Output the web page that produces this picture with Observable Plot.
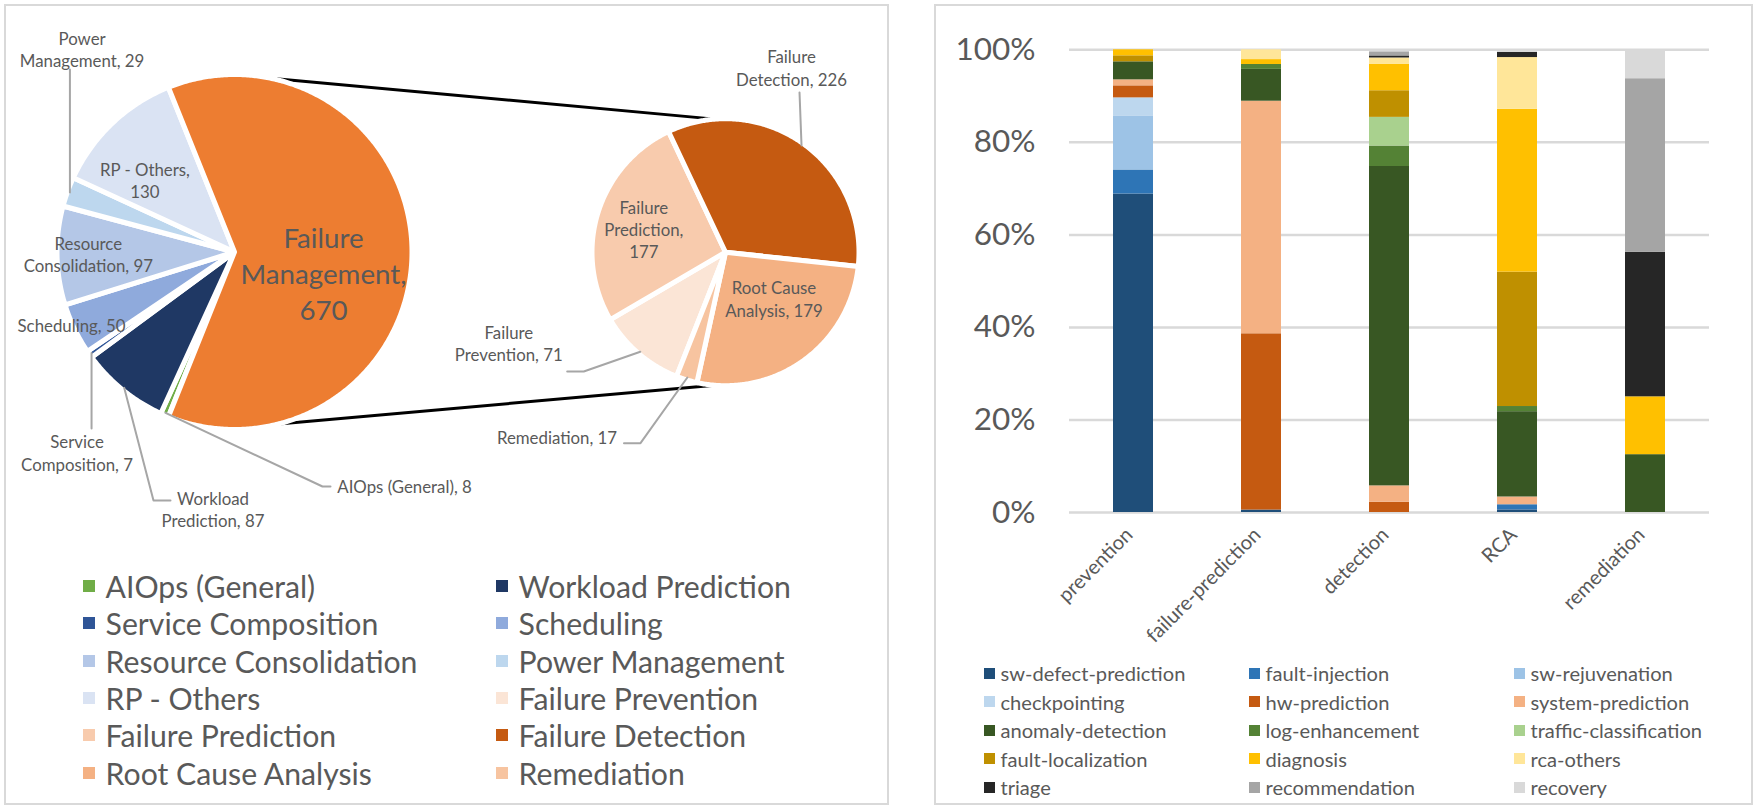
<!DOCTYPE html>
<html><head><meta charset="utf-8">
<script src="https://cdn.jsdelivr.net/npm/d3@7"></script>
<script src="https://cdn.jsdelivr.net/npm/@observablehq/plot@0.6"></script>
<style>
html,body{margin:0;padding:0;background:#fff;}
#page{position:relative;width:1757px;height:810px;overflow:hidden;font-family:Lato,sans-serif;color:#595959;}
.panel{position:absolute;box-sizing:border-box;border:2.5px solid #D9D9D9;}
.holder{position:absolute;}
.item{position:absolute;display:flex;align-items:center;white-space:nowrap;height:30px;}
.item span.sw{display:inline-block;flex:none;}
</style></head><body>
<div id="page">
  <div class="panel" style="left:4px;top:4px;width:885px;height:801px"></div>
  <div class="panel" style="left:934px;top:4px;width:819px;height:801px"></div>
  <div id="left" class="holder" style="left:0;top:0"></div>
  <div id="right" class="holder" style="left:935px;top:5px"></div>
  <div id="legL"></div>
  <div id="legR"></div>
</div>
<script>
// ---------------- DATA ----------------
const pieNames = ["AIOps (General)","Workload Prediction","Service Composition","Scheduling","Resource Consolidation","Power Management","RP - Others"];
const pieValues = [8, 87, 7, 50, 97, 29, 130];
const otherName = "Failure Management";
const subNames = ["Failure Prevention","Failure Prediction","Failure Detection","Root Cause Analysis","Remediation"];
const subValues = [71, 177, 226, 179, 17];

const barCategories = ["prevention","failure-prediction","detection","RCA","remediation"];
const barSeries = ["sw-defect-prediction","fault-injection","sw-rejuvenation","checkpointing","hw-prediction","system-prediction","anomaly-detection","log-enhancement","traffic-classification","fault-localization","diagnosis","rca-others","triage","recommendation","recovery"];
const preventionCounts        = [53, 4, 9, 3, 2, 1, 3, 0, 0, 1, 1, 0, 0, 0, 0];
const failurePredictionCounts = [1, 0, 0, 0, 72, 95, 13, 2, 0, 0, 2, 4, 0, 0, 0];
const detectionCounts         = [0, 0, 0, 0, 5, 8, 156, 10, 14, 13, 13, 3, 1, 2, 1];
const rcaCounts               = [1, 2, 0, 0, 0, 3, 33, 2, 0, 52, 63, 20, 2, 0, 1];
const remediationCounts       = [0, 0, 0, 0, 0, 0, 2, 0, 0, 0, 2, 0, 5, 6, 1];
const yTicks = [0, 0.2, 0.4, 0.6, 0.8, 1];

// ---------------- STYLES ----------------
const pieColors = ["#70AD47","#1F3864","#2F5597","#8FAADC","#B4C7E7","#BDD7EE","#DAE3F3"];
const otherColor = "#ED7D31";
const subColors = ["#FBE5D6","#F8CBAD","#C55A11","#F4B183","#F7C4A0"];
const barColors = ["#1F4E79","#2E75B6","#9DC3E6","#BDD7EE","#C55A11","#F4B183","#385723","#548235","#A9D18E","#BF9000","#FFC000","#FFE699","#262626","#A5A5A5","#D9D9D9"];
const TXT = "#595959";

function fit(text, target, family = "Lato") {
  const ctx = document.createElement("canvas").getContext("2d");
  ctx.font = `100px ${family}`;
  return 100 * target / ctx.measureText(text).width;
}
const ySize = fit("100%", 80);
const legRSize = fit("sw-defect-prediction", 185);
const legLSize = fit("Resource Consolidation", 312);
const smallSize = fit("Scheduling, 50", 108);
const bigSize = fit("Management,", 166);

// ---------------- RIGHT: stacked 100% bars ----------------
const barValues = [preventionCounts, failurePredictionCounts, detectionCounts, rcaCounts, remediationCounts];
const barTable = barCategories.flatMap((c, i) => barSeries.map((s, j) => ({category: c, series: s, value: barValues[i][j]})));

const right = Plot.plot({
  width: 817, height: 660,
  marginLeft: 134, marginRight: 43, marginTop: 44.3, marginBottom: 153,
  style: {fontFamily: "Lato", color: TXT, background: "transparent", overflow: "visible", maxWidth: "none"},
  x: {domain: barCategories, paddingInner: 0.6875, paddingOuter: 0.34375, axis: null},
  y: {domain: [0, 1], axis: null},
  color: {domain: barSeries, range: barColors},
  marks: [
    Plot.ruleY(yTicks, {stroke: "#D9D9D9", strokeWidth: 2.5}),
    Plot.barY(barTable, {x: "category", y: "value", fill: "series", offset: "normalize"}),
    Plot.axisY({ticks: yTicks, tickFormat: d3.format(".0%"), tickSize: 0, tickPadding: 34, fontSize: ySize, label: null, fill: TXT}),
    Plot.text(barCategories, {x: d => d, y: () => 0, text: d => d, rotate: -45, textAnchor: "end", lineAnchor: "middle", dx: -4, dy: 19, fontSize: legRSize, fill: TXT})
  ]
});
document.getElementById("right").appendChild(right);

// right legend
(function(){
  const colX = [984, 1249, 1514], rowY = [673, 701.5, 730, 758.5, 787];
  const box = document.getElementById("legR");
  barSeries.forEach((s, i) => {
    const d = document.createElement("div");
    d.className = "item";
    d.style.left = colX[i % 3] + "px";
    d.style.top = (rowY[Math.floor(i / 3)] - 15) + "px";
    d.style.fontSize = legRSize + "px";
    d.innerHTML = `<span class="sw" style="width:11px;height:11px;background:${barColors[i]}"></span><span style="margin-left:5.5px">${s}</span>`;
    box.appendChild(d);
  });
})();

// ---------------- LEFT: pie of pie ----------------
const L = {
  cx: 234, cy: 251.5, r: 177.5,
  cx2: 725, cy2: 251.7, r2: 133.5,
  rot2: 201.5,
  connTop: [11.7, -4.6], connBottom: [165.6, 184.6]
};
const deg = Math.PI / 180;
const pt = (cx, cy, r, a) => ({x: cx + r * Math.sin(a), y: cy - r * Math.cos(a)});

const mainNames = [...pieNames, otherName];
const mainVals = [...pieValues, d3.sum(subValues)];
const mainTotal = d3.sum(mainVals);
const start1 = Math.PI / 2 - 2 * Math.PI * (d3.sum(pieValues) + d3.sum(subValues) / 2) / mainTotal;
const pie = (s) => d3.pie().sort(null).value(d => d.v).startAngle(s).endAngle(s + 2 * Math.PI);
const arcs1 = pie(start1)(mainNames.map((n, i) => ({n, v: mainVals[i]})));
const arcs2 = pie(L.rot2 * deg)(subNames.map((n, i) => ({n, v: subValues[i]})));

function poly(a, cx, cy, r) {
  const n = Math.max(2, Math.ceil((a.endAngle - a.startAngle) / (0.5 * deg)));
  const pts = [{name: a.data.n, x: cx, y: cy}];
  for (let k = 0; k <= n; k++) {
    const t = a.startAngle + (a.endAngle - a.startAngle) * k / n;
    pts.push({name: a.data.n, ...pt(cx, cy, r, t)});
  }
  return pts;
}
const polys = [...arcs1.flatMap(a => poly(a, L.cx, L.cy, L.r)), ...arcs2.flatMap(a => poly(a, L.cx2, L.cy2, L.r2))];

const conns = [L.connTop, L.connBottom].map(([a1, a2]) => {
  const p = pt(L.cx, L.cy, L.r, a1 * deg), q = pt(L.cx2, L.cy2, L.r2, a2 * deg);
  return {x1: p.x, y1: p.y, x2: q.x, y2: q.y};
});

const midPt = (arcs, name, cx, cy, r) => {
  const a = arcs.find(d => d.data.n === name);
  return pt(cx, cy, r - 2.5, (a.startAngle + a.endAngle) / 2);
};
const m1 = name => midPt(arcs1, name, L.cx, L.cy, L.r);
const m2 = name => midPt(arcs2, name, L.cx2, L.cy2, L.r2);

const leaderDefs = [
  ["Power Management", m1("Power Management"), p => [{x: p.x, y: 69}]],
  ["Service Composition", m1("Service Composition"), p => [{x: p.x, y: 428}]],
  ["Workload Prediction", m1("Workload Prediction"), p => [{x: 153, y: 500}, {x: 170, y: 500}]],
  ["AIOps (General)", m1("AIOps (General)"), p => [{x: 322, y: 486}, {x: 330, y: 486}]],
  ["Failure Detection", m2("Failure Detection"), p => [{x: p.x - 2, y: 92}]],
  ["Failure Prevention", m2("Failure Prevention"), p => [{x: 583.3, y: 371}, {x: 566.7, y: 371}]],
  ["Remediation", m2("Remediation"), p => [{x: 640, y: 442.7}, {x: 623.5, y: 442.7}]]
];
const leaders = leaderDefs.flatMap(([id, p, f]) => [{id, ...p}, ...f(p).map(q => ({id, ...q}))]);

const valOf = n => {
  const i = mainNames.indexOf(n);
  if (i >= 0) return mainVals[i];
  return subValues[subNames.indexOf(n)];
};
const labelDefs = [
  ["Power Management", "Power\nManagement, ", 81.6, 48.4],
  ["RP - Others", "RP - Others,\n", 144.4, 179.5],
  ["Resource Consolidation", "Resource\nConsolidation, ", 87.8, 253.4],
  ["Scheduling", "Scheduling, ", 71, 324.3],
  ["Service Composition", "Service\nComposition, ", 76.5, 452],
  ["Workload Prediction", "Workload\nPrediction, ", 212.5, 508.4],
  ["AIOps (General)", "AIOps (General), ", 404, 485],
  ["Failure Detection", "Failure\nDetection, ", 791, 66.7],
  ["Failure Prediction", "Failure\nPrediction,\n", 643.3, 228.4],
  ["Root Cause Analysis", "Root Cause\nAnalysis, ", 773.5, 297.9],
  ["Failure Prevention", "Failure\nPrevention, ", 508.3, 342.2],
  ["Remediation", "Remediation, ", 556.5, 436.7]
];
const labels = labelDefs.map(([n, t, x, y]) => ({text: t + valOf(n), x, y}));
const bigLabel = [{text: "Failure\nManagement,\n" + valOf(otherName), x: 323, y: 272.4}];

const left = Plot.plot({
  width: 930, height: 560,
  marginLeft: 0, marginRight: 0, marginTop: 0, marginBottom: 0,
  style: {fontFamily: "Lato", color: TXT, background: "transparent", overflow: "visible", maxWidth: "none"},
  x: {domain: [0, 930], range: [0, 930], axis: null},
  y: {domain: [0, 560], range: [0, 560], axis: null},
  color: {domain: [...mainNames, ...subNames], range: [...pieColors, otherColor, ...subColors]},
  marks: [
    Plot.link(conns, {x1: "x1", y1: "y1", x2: "x2", y2: "y2", stroke: "black", strokeWidth: 3}),
    Plot.line(polys, {x: "x", y: "y", z: "name", fill: "name", stroke: "white", strokeWidth: 5, curve: "linear-closed", strokeLinejoin: "round"}),
    Plot.line(leaders, {x: "x", y: "y", z: "id", stroke: "#A6A6A6", strokeWidth: 2}),
    Plot.text(labels, {x: "x", y: "y", text: "text", fontSize: smallSize, lineHeight: 22.4 / smallSize, fill: TXT, textAnchor: "middle", lineAnchor: "middle"}),
    Plot.text(bigLabel, {x: "x", y: "y", text: "text", fontSize: bigSize, lineHeight: 36 / bigSize, fill: TXT, textAnchor: "middle", lineAnchor: "middle"})
  ]
});
document.getElementById("left").appendChild(left);

// left legend
(function(){
  const names = [...pieNames, ...subNames], cols = [...pieColors, ...subColors];
  const colX = [83, 496], rowY = [586, 623.3, 660.6, 697.9, 735.2, 772.5];
  const box = document.getElementById("legL");
  names.forEach((s, i) => {
    const d = document.createElement("div");
    d.className = "item";
    d.style.left = colX[i % 2] + "px";
    d.style.top = (rowY[Math.floor(i / 2)] - 15) + "px";
    d.style.fontSize = legLSize + "px";
    d.innerHTML = `<span class="sw" style="width:12px;height:12px;background:${cols[i]}"></span><span style="margin-left:10.6px">${s}</span>`;
    box.appendChild(d);
  });
})();
</script>
</body></html>
